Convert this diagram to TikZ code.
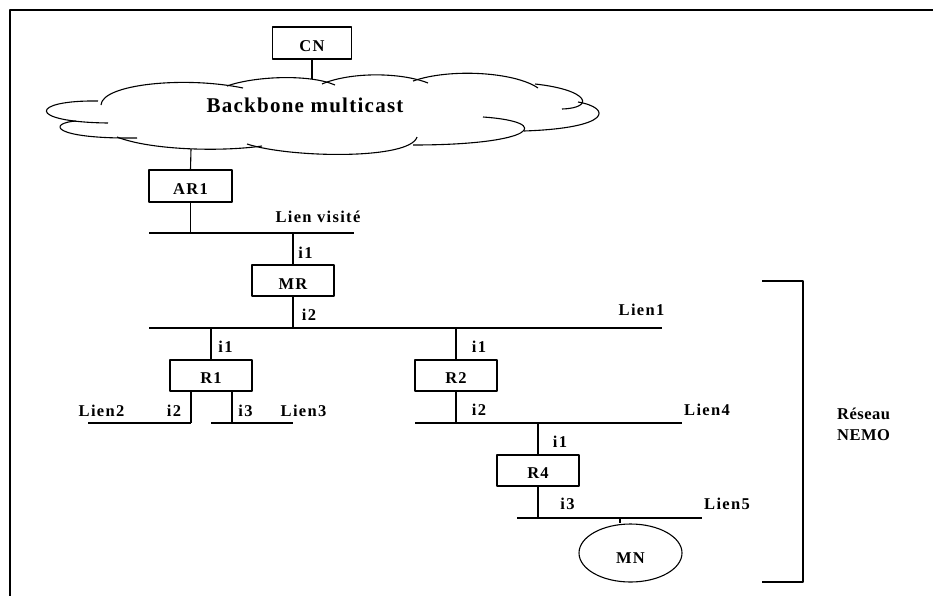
\documentclass[tikz,border=0pt]{standalone}
\usepackage{fontspec}
\setmainfont{Liberation Serif}
\newfontfamily\spacedserif[LetterSpace=8]{Liberation Serif}
\newfontfamily\widerserif[LetterSpace=6]{Liberation Serif}
\newfontfamily\sideserif[LetterSpace=3]{Liberation Serif}
\newcommand\labfont{\spacedserif\bfseries\fontsize{16.5}{19}\selectfont}
\newcommand\cloudfont{\widerserif\bfseries\fontsize{21}{25}\selectfont}
\newcommand\sidefont{\sideserif\bfseries\fontsize{16.5}{21}\selectfont}
\usetikzlibrary{shapes.geometric}
\tikzset{
  wire/.style={line width=1.1pt},
  box/.style={draw, line width=1.1pt, minimum width=82pt, minimum height=31pt,
    inner sep=0pt, text height=16pt, text depth=0pt, font=\labfont},
  lab/.style={anchor=base, inner sep=0pt, font=\labfont},
}
\begin{document}
\begin{tikzpicture}[x=1pt, y=-1pt, line join=round]
\useasboundingbox (0,0) rectangle (933,595);

% outer frame
\draw[line width=2pt] (10,600) -- (10,9.5) -- (940,9.5);

% backbone cloud, drawn lobe by lobe
\begin{scope}[wire]
  \draw (108,123) .. controls (25,122) and (30,100) .. (98,101);
  \draw (101,105) .. controls (102,84) and (185,76) .. (243,88);
  \draw (227,86) .. controls (255,76) and (310,74) .. (335,85);
  \draw (322,84) .. controls (350,72) and (400,72) .. (428,83);
  \draw (413,81) .. controls (450,68) and (515,72) .. (538,88);
  \draw (535,84) .. controls (590,90) and (595,108) .. (562,109);
  \draw (578,102) .. controls (612,108) and (612,128) .. (524,131);
  \draw (483,117) .. controls (555,122) and (535,145) .. (413,145);
  \draw (417,137) .. controls (410,160) and (290,158) .. (247,144);
  \draw (117,137) .. controls (150,150) and (220,152) .. (262,146);
  \draw (76,121) .. controls (48,123) and (50,139) .. (137,138);
\end{scope}
\node[inner sep=0pt, anchor=base, font=\cloudfont] (bb) at (305,112) {Backbone multicast};
\coordinate (cloudtop) at (312,79);
\coordinate (cloudbot) at (191,149);

% equipment
\node[box, minimum width=79pt, minimum height=32pt, text height=17pt] (cn) at (312,43) {CN};
\node[box, minimum width=83pt, minimum height=32pt, text height=17pt] (ar1) at (190.5,186) {AR1};
\node[box, text height=17pt] (mr) at (293,280.5) {MR};
\node[box] (r1) at (211,375.5) {R1};
\node[box] (r2) at (456,375.5) {R2};
\node[box] (r4) at (538,470.5) {R4};
\node[draw, ellipse, line width=1.1pt, minimum width=103pt, minimum height=58pt,
      inner sep=0pt, text height=20.5pt, text depth=0pt, font=\labfont] (mn) at (630.5,553) {MN};

% links (segments)
\coordinate (lvw) at (149,233);  \coordinate (lve) at (354,233);
\coordinate (l1w) at (149,328);  \coordinate (l1e) at (662,328);
\coordinate (l2w) at (88,423);   \coordinate (l2e) at (191,423);
\coordinate (l3w) at (211,423);  \coordinate (l3e) at (293,423);
\coordinate (l4w) at (415,423);  \coordinate (l4e) at (682,423);
\coordinate (l5w) at (517,518);  \coordinate (l5e) at (702,518);
\draw[wire] (lvw) -- (lve);
\draw[wire] (l1w) -- (l1e);
\draw[wire] (l2w) -- (l2e);
\draw[wire] (l3w) -- (l3e);
\draw[wire] (l4w) -- (l4e);
\draw[wire] (l5w) -- (l5e);

% attachments
\coordinate (mntap) at (620,518);
\coordinate (l3tap) at (232,423);
\draw[wire] (cn.south) -- (cloudtop);
\draw[wire] (cloudbot) -- (ar1.north);
\draw[wire] (ar1.south) -- (ar1.south |- lvw);
\draw[wire] (mr.north |- lvw) -- (mr.north);
\draw[wire] (mr.south) -- (mr.south |- l1w);
\draw[wire] (r1.north |- l1w) -- (r1.north);
\draw[wire] (r2.north |- l1w) -- (r2.north);
\draw[wire] (r1.south -| l2e) -- (l2e);
\draw[wire] (r1.south -| l3tap) -- (l3tap);
\draw[wire] (r2.south) -- (r2.south |- l4w);
\draw[wire] (r4.north |- l4w) -- (r4.north);
\draw[wire] (r4.south) -- (r4.south |- l5w);
\draw[wire] (mntap) -- (mntap |- mn.north);

% link and interface labels
\node[lab] (tlv) at (318,222.7) {Lien visité};
\node[lab] (tmr1) at (305.5,258.5) {i1};
\node[lab] (tmr2) at (309,320) {i2};
\node[lab] (tl1) at (641.5,315.7) {Lien1};
\node[lab] (tr1a) at (225.5,352) {i1};
\node[lab] (tl2) at (101.5,416.5) {Lien2};
\node[lab] (tr1b) at (174,416.5) {i2};
\node[lab] (tr1c) at (245.5,416.5) {i3};
\node[lab] (tl3) at (303.5,416.5) {Lien3};
\node[lab] (tr2a) at (479,352) {i1};
\node[lab] (tr2b) at (479,415.5) {i2};
\node[lab] (tl4) at (707,415.5) {Lien4};
\node[lab] (tr4a) at (560,447.5) {i1};
\node[lab] (tr4b) at (567.5,509.5) {i3};
\node[lab] (tl5) at (727,509.5) {Lien5};

% NEMO bracket
\coordinate (bt) at (762,281); \coordinate (bb2) at (762,582);
\draw[wire] (bt) -- (803,281) -- (803,582) -- (bb2);
\node[inner sep=0pt, anchor=base west, font=\sidefont] (res) at (837,419) {Réseau};
\node[inner sep=0pt, anchor=base west, font=\sidefont] (nemo) at (837,440) {NEMO};
\end{tikzpicture}
\end{document}
